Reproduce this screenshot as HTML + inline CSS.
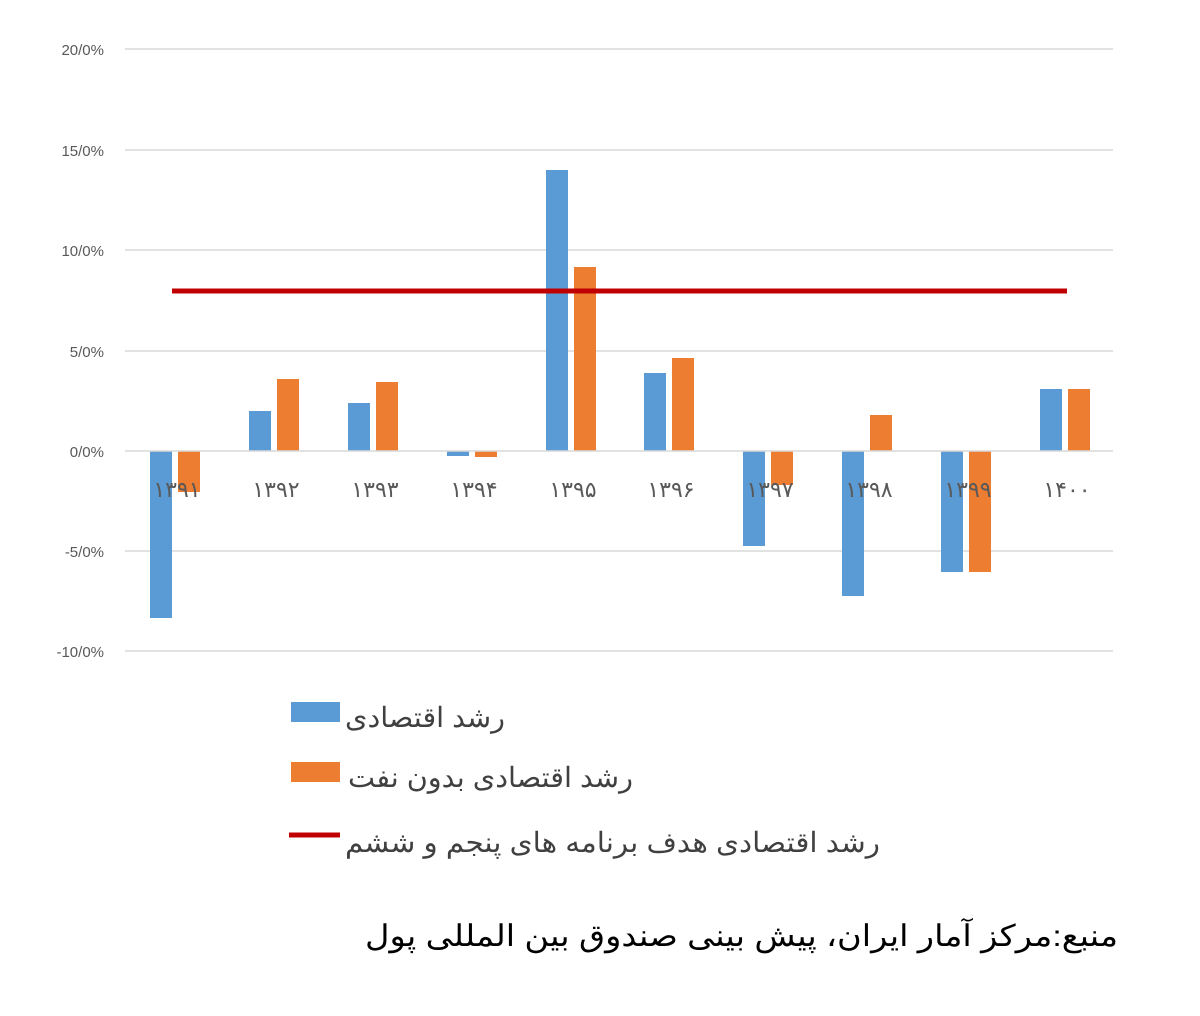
<!DOCTYPE html>
<html><head><meta charset="utf-8"><style>
body{margin:0;background:#fff;width:1200px;height:1011px;overflow:hidden}
svg text{font-family:"Liberation Sans","Noto Sans CJK SC",sans-serif}
</style></head><body>
<svg width="1200" height="1011" xmlns="http://www.w3.org/2000/svg">
<g stroke="#d9d9d9" stroke-width="1.5">
<line x1="125" y1="49" x2="1113" y2="49"/>
<line x1="125" y1="150" x2="1113" y2="150"/>
<line x1="125" y1="250" x2="1113" y2="250"/>
<line x1="125" y1="351" x2="1113" y2="351"/>
<line x1="125" y1="551" x2="1113" y2="551"/>
<line x1="125" y1="651" x2="1113" y2="651"/>
</g>
<g font-size="15" fill="#595959" text-anchor="end">
<text x="104" y="55">20/0%</text>
<text x="104" y="156">15/0%</text>
<text x="104" y="256">10/0%</text>
<text x="104" y="357">5/0%</text>
<text x="104" y="457">0/0%</text>
<text x="104" y="557">-5/0%</text>
<text x="104" y="657">-10/0%</text>
</g>
<g fill="#5b9bd5">
<rect x="150" y="451" width="22" height="167"/>
<rect x="249" y="411" width="22" height="40"/>
<rect x="348" y="403" width="22" height="48"/>
<rect x="447" y="451" width="22" height="5"/>
<rect x="546" y="170" width="22" height="281"/>
<rect x="644" y="373" width="22" height="78"/>
<rect x="743" y="451" width="22" height="95"/>
<rect x="842" y="451" width="22" height="145"/>
<rect x="941" y="451" width="22" height="121"/>
<rect x="1040" y="389" width="22" height="62"/>
</g>
<g fill="#ed7d31">
<rect x="178" y="451" width="22" height="41"/>
<rect x="277" y="379" width="22" height="72"/>
<rect x="376" y="382" width="22" height="69"/>
<rect x="475" y="451" width="22" height="6"/>
<rect x="574" y="267" width="22" height="184"/>
<rect x="672" y="358" width="22" height="93"/>
<rect x="771" y="451" width="22" height="34"/>
<rect x="870" y="415" width="22" height="36"/>
<rect x="969" y="451" width="22" height="121"/>
<rect x="1068" y="389" width="22" height="62"/>
</g>
<line x1="125" y1="451" x2="1113" y2="451" stroke="#d9d9d9" stroke-width="1.5"/>
<line x1="172" y1="291" x2="1067" y2="291" stroke="#c00000" stroke-width="5"/>
<g font-size="22" fill="#595959" text-anchor="middle" letter-spacing="6">
<text x="177" y="497">۱۳۹۱</text>
<text x="276" y="497">۱۳۹۲</text>
<text x="375" y="497">۱۳۹۳</text>
<text x="474" y="497">۱۳۹۴</text>
<text x="573" y="497">۱۳۹۵</text>
<text x="671" y="497">۱۳۹۶</text>
<text x="770" y="497">۱۳۹۷</text>
<text x="869" y="497">۱۳۹۸</text>
<text x="968" y="497">۱۳۹۹</text>
<text x="1067" y="497">۱۴۰۰</text>
</g>
<rect x="291" y="702" width="49" height="20" fill="#5b9bd5"/>
<rect x="291" y="762" width="49" height="20" fill="#ed7d31"/>
<line x1="289" y1="835" x2="340" y2="835" stroke="#c00000" stroke-width="5"/>
<g font-size="28" fill="#404040" text-anchor="start">
<text x="505" y="727" direction="rtl" textLength="160" lengthAdjust="spacingAndGlyphs">رشد اقتصادی</text>
<text x="633" y="787" direction="rtl" textLength="285" lengthAdjust="spacingAndGlyphs">رشد اقتصادی بدون نفت</text>
<text x="880" y="852" direction="rtl" textLength="535" lengthAdjust="spacingAndGlyphs">رشد اقتصادی هدف برنامه های پنجم و ششم</text>
</g>
<text x="1118" y="946" font-size="30" fill="#000" text-anchor="start" direction="rtl" textLength="753" lengthAdjust="spacingAndGlyphs">منبع:مرکز آمار ایران، پیش بینی صندوق بین المللی پول</text>
</svg>
</body></html>
